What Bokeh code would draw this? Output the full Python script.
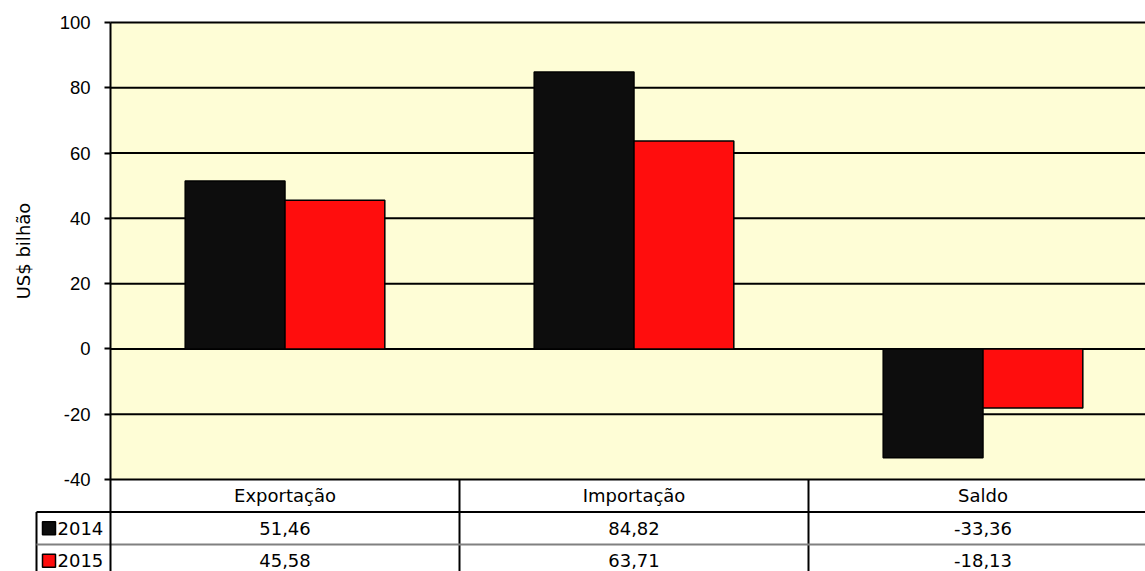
import numpy as np
from bokeh.plotting import figure
from bokeh.models import Range1d, FixedTicker
from bokeh.core.properties import value
from bokeh.embed import file_html
from bokeh.resources import INLINE

# ---------------- data ----------------
categories = ["Exportação", "Importação", "Saldo"]
years = ["2014", "2015"]
values_2014 = [51.46, 84.82, -33.36]
values_2015 = [45.58, 63.71, -18.13]
y_ticks = [-40, -20, 0, 20, 40, 60, 80, 100]
y_label = "US$ bilhão"
colors = ["#0d0d0d", "#ff0d0d"]

# ---------------- layout constants (pixels) ----------------
CAT_PX = 349          # width of one category column
AXIS_X = 110          # pixel position of the y axis
FIG_W = 1145
FIG_H = 571
TOP = 22              # pixel position of the top of the chart area
CHART_H = 457         # chart area height
ROW_H = 32.5          # table row height
N_ROWS = 3
LABEL_COL = 74        # width of the table's row-label column
BAR_W = 0.286
BG = "#FEFDD6"
TXT_FONT = "DejaVu Sans"
TXT_SIZE = "18px"

n = len(categories)
centers = np.arange(n) + 0.5
x_start = -AXIS_X / CAT_PX
x0 = -LABEL_COL / CAT_PX
x_end = (FIG_W - AXIS_X) / CAT_PX
y_min, y_max = min(y_ticks), max(y_ticks)
y_px = CHART_H / (y_max - y_min)
below_h = FIG_H - TOP - CHART_H

p = figure(width=FIG_W, height=FIG_H,
           x_range=Range1d(x_start, x_end),
           y_range=Range1d(y_min - below_h / y_px, y_max + TOP / y_px),
           output_backend="svg", toolbar_location=None,
           min_border_left=0, min_border_top=0, min_border_bottom=0,
           min_border_right=0, x_axis_location=None)
p.extra_y_ranges = {"table": Range1d(below_h / ROW_H, -(CHART_H + TOP) / ROW_H)}
p.background_fill_color = "white"
p.border_fill_color = "white"
p.outline_line_color = None
p.grid.visible = False

# chart background
p.quad(left=0, right=x_end, bottom=y_min, top=y_max, fill_color=BG,
       line_color=None, level="image")
# horizontal grid lines
p.segment(x0=[0] * len(y_ticks), x1=[x_end] * len(y_ticks), y0=y_ticks, y1=y_ticks,
          line_color="black", line_width=2, level="underlay")

# bars
p.vbar(x=centers - BAR_W / 2, top=values_2014, bottom=0, width=BAR_W,
       fill_color=colors[0], line_color="black", line_width=1.5)
p.vbar(x=centers + BAR_W / 2, top=values_2015, bottom=0, width=BAR_W,
       fill_color=colors[1], line_color="black", line_width=1.5)

# y axis (fixed at the chart's left edge)
ax = p.yaxis[0]
ax.fixed_location = 0
ax.bounds = (y_min - below_h / y_px, y_max)
ax.ticker = FixedTicker(ticks=y_ticks)
ax.major_label_overrides = {t: str(t) for t in y_ticks}
ax.minor_tick_line_color = None
ax.major_tick_out = 6
ax.major_tick_in = 0
ax.major_tick_line_width = 2
ax.major_tick_line_color = "black"
ax.axis_line_color = "black"
ax.axis_line_width = 2
ax.major_label_text_font = "Liberation Sans"
ax.major_label_text_font_size = "18.5px"
ax.major_label_text_color = "black"
ax.major_label_standoff = 14

# axis title
p.text(x=[x_start + 23 / CAT_PX], y=[(y_min + y_max) / 2], text=[y_label],
       angle=np.pi / 2, text_align="center", text_baseline="middle",
       text_font=value(TXT_FONT), text_font_size="18px", text_color="black")

# ---------------- data table ----------------
T = "table"
# vertical lines
p.segment(x0=[x0], x1=[x0], y0=[1], y1=[N_ROWS], y_range_name=T,
          line_color="black", line_width=2)
p.segment(x0=list(range(1, n)), x1=list(range(1, n)), y0=[0] * (n - 1),
          y1=[N_ROWS] * (n - 1), y_range_name=T, line_color="black", line_width=2)
# horizontal lines
p.segment(x0=[x0], x1=[x_end], y0=[1], y1=[1], y_range_name=T,
          line_color="black", line_width=2)
p.segment(x0=[x0], x1=[x_end], y0=[2], y1=[2], y_range_name=T,
          line_color="#808080", line_width=2)

# header
p.text(x=centers, y=[0.5] * n, text=categories, y_range_name=T,
       text_align="center", text_baseline="middle",
       text_font=value(TXT_FONT), text_font_size=TXT_SIZE, text_color="black")

rows = [values_2014, values_2015]
for r, vals in enumerate(rows):
    yr = r + 1.5
    p.text(x=centers, y=[yr] * n, y_range_name=T,
           text=[f"{v:.2f}".replace(".", ",") for v in vals],
           text_align="center", text_baseline="middle",
           text_font=value(TXT_FONT), text_font_size=TXT_SIZE, text_color="black")
    p.scatter(x=[x0 + 12.5 / CAT_PX], y=[yr], y_range_name=T, marker="square", size=13,
              fill_color=colors[r], line_color="black", line_width=1.5)
    p.text(x=[x0 + 21 / CAT_PX], y=[yr], text=[years[r]], y_range_name=T,
           text_align="left", text_baseline="middle",
           text_font=value(TXT_FONT), text_font_size=TXT_SIZE, text_color="black")

open("out.html", "w").write(file_html(p, INLINE))
